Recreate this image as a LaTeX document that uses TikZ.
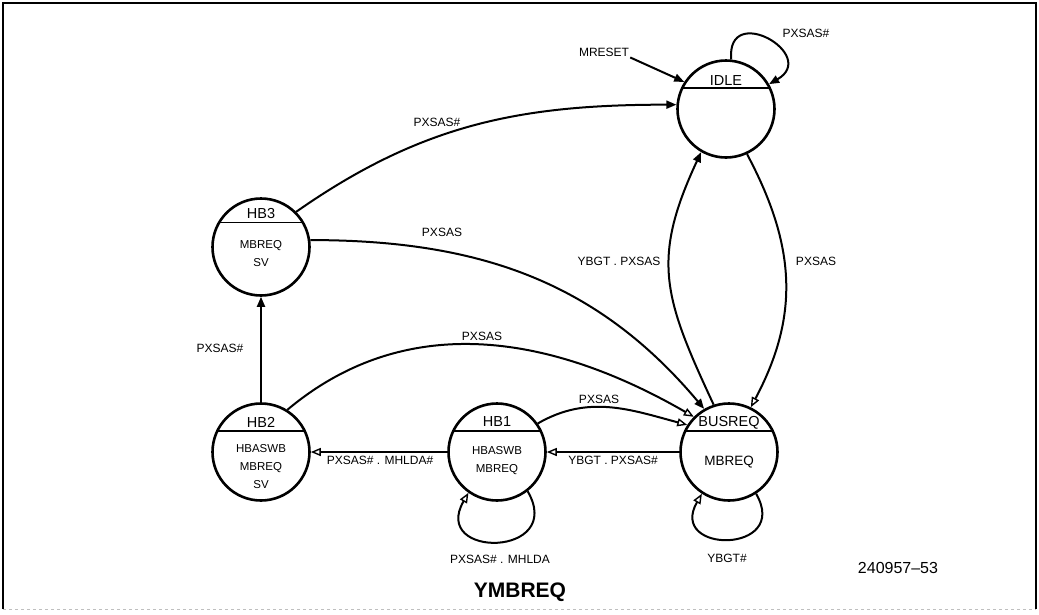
\documentclass[tikz,border=0pt]{standalone}
\usepackage{fontspec}
\setmainfont{Liberation Sans}
\usetikzlibrary{arrows.meta}

\tikzset{
    state/.style={circle, draw, line width=2.6pt, minimum size=97pt, inner sep=0pt},
    sname/.style={font=\fontsize{14.5}{16}\selectfont, inner sep=1pt},
    sbody/.style={font=\fontsize{11.5}{18}\selectfont, align=center, inner sep=1pt},
    lbl/.style={font=\fontsize{12}{14}\selectfont, inner sep=1pt},
    trans/.style={line width=2pt, -{Triangle[length=10pt, width=8pt]}},
    otrans/.style={line width=2pt, -{Triangle[open, length=10pt, width=8pt, line width=1.4pt]}},
}

\begin{document}
\begin{tikzpicture}[x=1pt, y=-1pt]
    \useasboundingbox (0,0) rectangle (1039,614);

    % Frame
    \draw[line width=1.2pt] (3,609) -- (3,3) -- (1036,3) -- (1036,609);
    \draw[line width=1pt, gray!50, dashed] (3,609) -- (1036,609);

    % States
    \node[state] (idle) at (726,109) {};
    \node[state] (hb3) at (261,247) {};
    \node[state] (hb2) at (261,452) {};
    \node[state] (hb1) at (497,452) {};
    \node[state] (busreq) at (729,452) {};

    % Dividers
    \draw[line width=1.2pt] (idle.155) -- (idle.25);
    \draw[line width=1.2pt] (hb3.150) -- (hb3.30);
    \draw[line width=1.2pt] (hb2.155) -- (hb2.25);
    \draw[line width=1.2pt] (hb1.155) -- (hb1.25);
    \draw[line width=1.2pt] (busreq.155) -- (busreq.25);

    % State names
    \node[sname] (idlen) at (726,81) {IDLE};
    \node[sname] (hb3n) at (261,214) {HB3};
    \node[sname] (hb2n) at (261,422) {HB2};
    \node[sname] (hb1n) at (497,422) {HB1};
    \node[sname] (busreqn) at (729,423) {BUSREQ};

    % Outputs
    \node[sbody] (hb3b) at (261,254) {MBREQ\\SV};
    \node[sbody] (hb2b) at (261,467) {HBASWB\\MBREQ\\SV};
    \node[sbody] (hb1b) at (497,461) {HBASWB\\MBREQ};
    \node[sname, font=\fontsize{13.5}{15}\selectfont] (busreqb) at (729,462) {MBREQ};

    % Reset
    \node[lbl] (lmreset) at (604,52) {MRESET};
    \draw[trans] (lmreset.south east) -- (idle.147);

    % Transitions from IDLE
    \node[lbl] (lidleloop) at (806,33) {PXSAS\#};
    \draw[trans] (idle.84) to[out=95, in=30, looseness=3.3] (idle.30);
    \node[lbl] (lidlebus) at (816,261) {PXSAS};
    \draw[otrans] (idle.295) to[out=-62, in=62, looseness=1.05] (busreq.64);

    % Transitions from HB3
    \node[lbl] (lhb3idle) at (437,122) {PXSAS\#};
    \draw[trans] (hb3.45) to[out=35, in=180] (idle.175);
    \node[lbl] (lhb3bus) at (442,232) {PXSAS};
    \draw[trans] (hb3.8) to[out=0, in=130] (busreq.120);

    % Transitions from HB2
    \node[lbl] (lhb2hb3) at (220,348) {PXSAS\#};
    \draw[trans] (hb2) -- (hb3);
    \node[lbl] (lhb2bus) at (482,336) {PXSAS};
    \draw[otrans] (hb2.58) to[out=40, in=150] (busreq.135);

    % Transitions from HB1
    \node[lbl] (lhb1bus) at (599,399) {PXSAS};
    \draw[otrans] (hb1.35) to[out=30, in=165] (busreq.147);
    \node[lbl] (lhb1hb2) at (380,460) {PXSAS\# . MHLDA\#};
    \draw[otrans] (hb1.west) -- (hb2.east);
    \node[lbl] (lhb1loop) at (500,559) {PXSAS\# . MHLDA};
    \draw[otrans] (hb1.308) to[out=-60, in=-120, looseness=3.3] (hb1.235);

    % Transitions from BUSREQ
    \node[lbl] (lbushb1) at (613,460) {YBGT . PXSAS\#};
    \draw[otrans] (busreq.west) -- (hb1.east);
    \node[lbl] (lbusloop) at (727,558) {YBGT\#};
    \draw[otrans] (busreq.303) to[out=-60, in=-120, looseness=3.3] (busreq.237);
    \node[lbl] (lbusidle) at (619,261) {YBGT . PXSAS};
    \draw[trans] (busreq.108) to[out=115, in=245, looseness=1.2] (idle.240);

    % Captions
    \node[font=\fontsize{21}{24}\selectfont\bfseries] (title) at (520,592) {YMBREQ};
    \node[font=\fontsize{16}{18}\selectfont] (figno) at (898,568) {240957--53};
\end{tikzpicture}
\end{document}
